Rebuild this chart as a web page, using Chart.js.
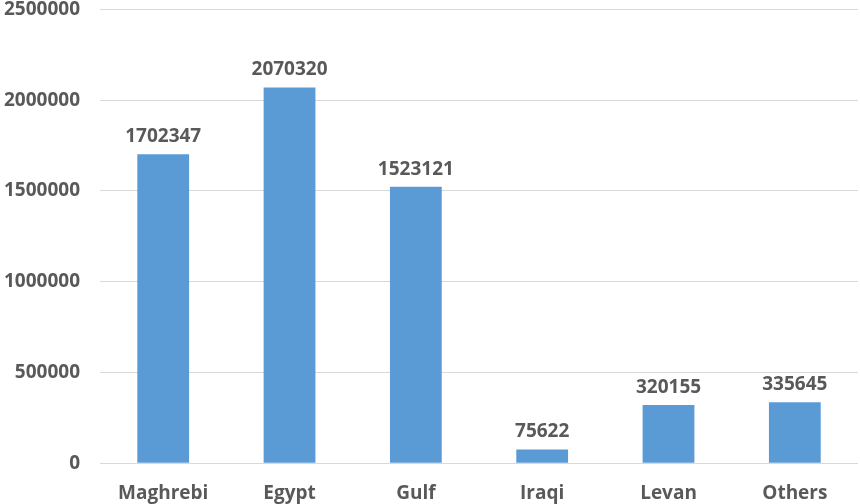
<!DOCTYPE html>
<html>
<head>
<meta charset="utf-8">
<script src="https://cdn.jsdelivr.net/npm/chart.js@4/dist/chart.umd.min.js"></script>
<style>
    html, body { margin: 0; padding: 0; background: #fff; overflow: hidden; }
    #wrap { position: relative; top: -22px; width: 860px; height: 544px; }
</style>
</head>
<body>
<div id="wrap"><canvas id="mainChart"></canvas></div>
<script>
'use strict';

const categories = ['Maghrebi', 'Egypt', 'Gulf', 'Iraqi', 'Levan', 'Others'];
const counts = [1702347, 2070320, 1523121, 75622, 320155, 335645];
const yTicks = [0, 500000, 1000000, 1500000, 2000000, 2500000];

const TEXT = '#595959';
const BAR = '#5B9BD5';
const GRID = '#D9D9D9';
const FONT = 'Open Sans';

// Value labels drawn just above each bar
const barLabels = {
    id: 'barLabels',
    afterDatasetsDraw(chart) {
        const ctx = chart.ctx;
        const meta = chart.getDatasetMeta(0);
        ctx.save();
        ctx.font = `bold 19px "${FONT}"`;
        ctx.fillStyle = TEXT;
        ctx.textAlign = 'center';
        ctx.textBaseline = 'alphabetic';
        meta.data.forEach((bar, i) => {
            ctx.fillText(String(counts[i]), bar.x, bar.y - 12);
        });
        ctx.restore();
    }
};

const ctx = document.getElementById('mainChart').getContext('2d');
new Chart(ctx, {
    type: 'bar',
    data: {
        labels: categories,
        datasets: [{
            data: counts,
            backgroundColor: BAR,
            borderWidth: 0,
            categoryPercentage: 1,
            barPercentage: 0.41
        }]
    },
    options: {
        responsive: true,
        maintainAspectRatio: false,
        animation: false,
        layout: { padding: { top: -21, right: 2, bottom: 6, left: -16 } },
        plugins: {
            legend: { display: false },
            tooltip: { enabled: false }
        },
        scales: {
            x: {
                grid: { display: false },
                border: { display: false },
                ticks: {
                    color: TEXT,
                    font: { family: FONT, size: 19, weight: 'bold' },
                    padding: 11,
                    maxRotation: 0
                }
            },
            y: {
                min: 0,
                max: 2500000,
                afterBuildTicks: axis => { axis.ticks = yTicks.map(v => ({ value: v })); },
                grid: { color: GRID, lineWidth: 1, drawTicks: false },
                border: { display: false },
                ticks: {
                    color: TEXT,
                    font: { family: FONT, size: 19, weight: 'bold' },
                    padding: 20,
                    callback: v => String(v)
                }
            }
        }
    },
    plugins: [barLabels]
});
</script>
</body>
</html>
